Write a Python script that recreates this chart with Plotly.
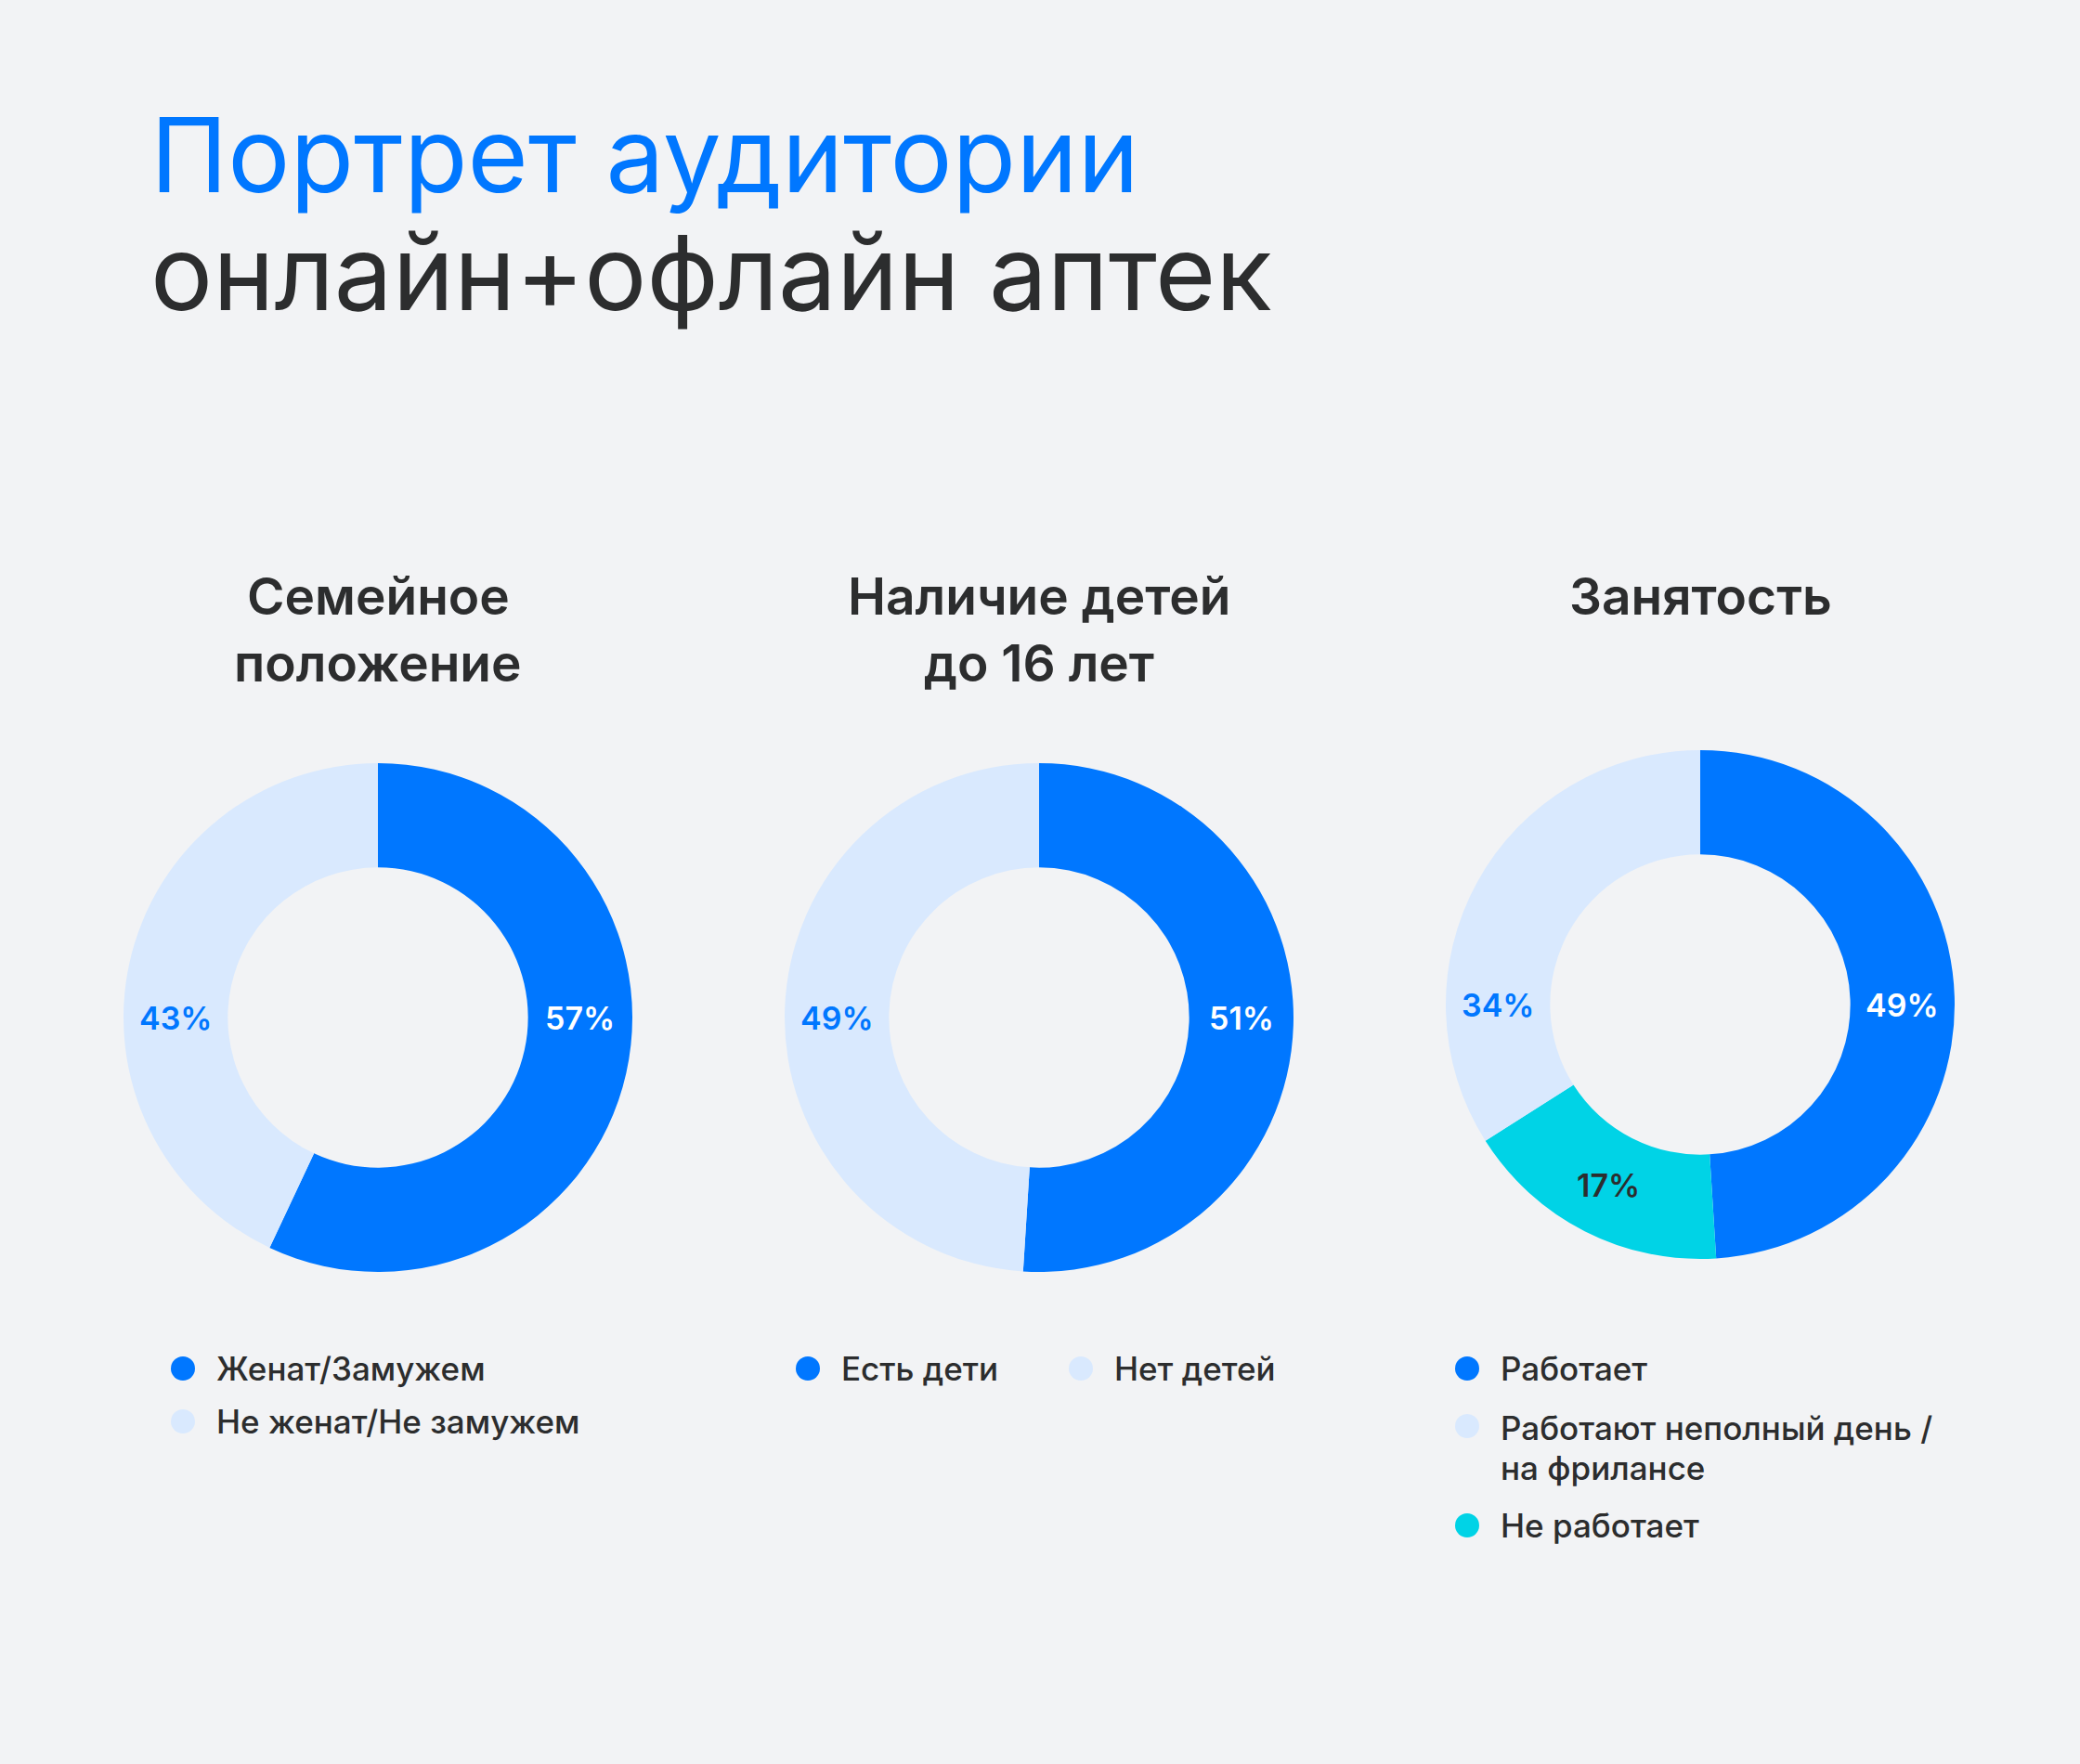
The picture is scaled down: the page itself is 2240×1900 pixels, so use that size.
import math
import plotly.graph_objects as go

# ---------------- data ----------------
title_line1 = "Портрет аудитории"
title_line2 = "онлайн+офлайн аптек"

family_title = ["Семейное", "положение"]
family_labels = ["Женат/Замужем", "Не женат/Не замужем"]
family_values = [57, 43]

kids_title = ["Наличие детей", "до 16 лет"]
kids_labels = ["Есть дети", "Нет детей"]
kids_values = [51, 49]

work_title = ["Занятость"]
work_labels = ["Работает", "Не работает", "Работают неполный день / на фрилансе"]
work_values = [49, 17, 34]

# ---------------- style ----------------
W, H = 2240, 1900
BG = "#F2F3F5"
BLUE = "#0077FF"
LIGHT = "#D9E9FE"
CYAN = "#00D3E6"
DARK = "#2C2D2E"
FONT = "Inter"

R_OUT = 274
HOLE = 0.59
R_IN = R_OUT * HOLE


def px(x):
    return x / W


def py(y):
    return 1 - y / H


charts = [
    dict(title=family_title, labels=family_labels, values=family_values,
         colors=[BLUE, LIGHT], textcolors=["#FFFFFF", BLUE],
         cx=407, cy=1096, title_y=[642, 714],
         legend=[  # (slice index, marker x, marker y, text lines [(y, text)])
             (0, 197, 1474, [(1474, None)]),
             (1, 197, 1531, [(1531, None)]),
         ]),
    dict(title=kids_title, labels=kids_labels, values=kids_values,
         colors=[BLUE, LIGHT], textcolors=["#FFFFFF", BLUE],
         cx=1119, cy=1096, title_y=[642, 714],
         legend=[
             (0, 870, 1474, [(1474, None)]),
             (1, 1164, 1474, [(1474, None)]),
         ]),
    dict(title=work_title, labels=work_labels, values=work_values,
         colors=[BLUE, CYAN, LIGHT], textcolors=["#FFFFFF", DARK, BLUE],
         cx=1831, cy=1082, title_y=[642],
         legend=[
             (0, 1580, 1474, [(1474, None)]),
             (2, 1580, 1536, [(1538, "Работают неполный день /"), (1581, "на фрилансе")]),
             (1, 1580, 1643, [(1643, None)]),
         ]),
]

fig = go.Figure()
annotations = []
shapes = []

for ch in charts:
    cx, cy = ch["cx"], ch["cy"]
    fig.add_trace(go.Pie(
        labels=ch["labels"], values=ch["values"],
        hole=HOLE, sort=False, direction="clockwise", rotation=0,
        marker=dict(colors=ch["colors"], line=dict(width=0)),
        textinfo="none", hoverinfo="label+percent", showlegend=False,
        domain=dict(x=[px(cx - R_OUT), px(cx + R_OUT)],
                    y=[py(cy + R_OUT), py(cy - R_OUT)]),
    ))
    # chart title
    for ty, line in zip(ch["title_y"], ch["title"]):
        annotations.append(dict(
            x=px(cx), y=py(ty), xref="paper", yref="paper",
            text=line, showarrow=False, xanchor="center", yanchor="middle",
            font=dict(family=FONT, size=55, color=DARK, weight=600)))
    # percentage labels
    total = sum(ch["values"])
    start = 0.0
    r_mid = (R_OUT + R_IN) / 2
    for v, tc in zip(ch["values"], ch["textcolors"]):
        a0 = start
        a1 = start + v / total * 360
        start = a1
        if a0 <= 90 <= a1:
            ang = 90
        elif a0 <= 270 <= a1:
            ang = 270
        else:
            ang = (a0 + a1) / 2
        lx = cx + r_mid * math.sin(math.radians(ang))
        ly = cy - r_mid * math.cos(math.radians(ang))
        annotations.append(dict(
            x=px(lx), y=py(ly), xref="paper", yref="paper",
            text=f"{v}%", showarrow=False, xanchor="center", yanchor="middle",
            font=dict(family=FONT, size=34, color=tc, weight=600)))
    # legend
    for idx, mx, my, lines in ch["legend"]:
        rr = 13
        shapes.append(dict(
            type="circle", xref="paper", yref="paper",
            x0=px(mx - rr), x1=px(mx + rr), y0=py(my + rr), y1=py(my - rr),
            fillcolor=ch["colors"][idx], line=dict(width=0)))
        for ly, txt in lines:
            annotations.append(dict(
                x=px(mx + 34), y=py(ly), xref="paper", yref="paper",
                text=txt if txt is not None else ch["labels"][idx],
                showarrow=False, xanchor="left", yanchor="middle",
                font=dict(family=FONT, size=35, color=DARK, weight=500)))

# main title
annotations.append(dict(
    x=px(160), y=py(166), xref="paper", yref="paper", text=title_line1,
    showarrow=False, xanchor="left", yanchor="middle",
    font=dict(family=FONT, size=112, color=BLUE, weight=400)))
annotations.append(dict(
    x=px(160), y=py(293), xref="paper", yref="paper", text=title_line2,
    showarrow=False, xanchor="left", yanchor="middle",
    font=dict(family=FONT, size=112, color=DARK, weight=400)))

fig.update_layout(
    width=W, height=H, margin=dict(l=0, r=0, t=0, b=0),
    paper_bgcolor=BG, plot_bgcolor=BG,
    annotations=annotations, shapes=shapes,
)

fig.write_html("out.html")
